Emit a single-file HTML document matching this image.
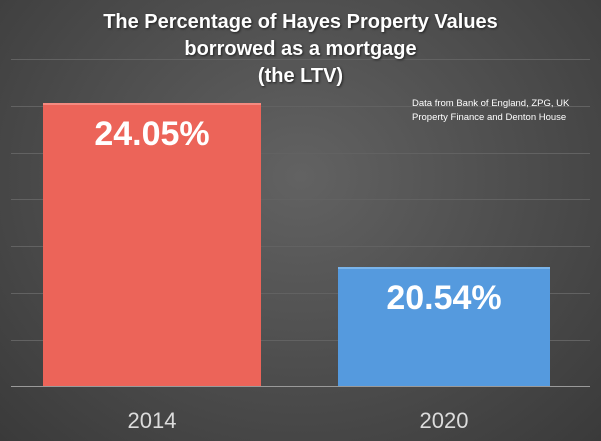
<!DOCTYPE html>
<html><head><style>
body{margin:0;width:601px;height:441px;overflow:hidden;font-family:"Liberation Sans",sans-serif;}
#c{position:relative;width:601px;height:441px;background:radial-gradient(ellipse at 50% 40%,#626262 0%,#505050 45%,#3a3a3a 100%);}
.g{position:absolute;left:11px;width:579px;height:1px;background:#626262;}
.t{position:absolute;left:0;width:601px;text-align:center;color:#fff;font-weight:bold;font-size:20px;text-shadow:1px 1px 2px #222;}
.bar{position:absolute;}
.v{position:absolute;width:100%;text-align:center;color:#fff;font-weight:bold;font-size:34px;}
.x{position:absolute;color:#dcdcdc;font-size:22px;top:408px;width:218px;text-align:center;}
</style></head><body><div id="c">
<div class="g" style="top:59px"></div>
<div class="g" style="top:106px"></div>
<div class="g" style="top:153px"></div>
<div class="g" style="top:199px"></div>
<div class="g" style="top:246px"></div>
<div class="g" style="top:293px"></div>
<div class="g" style="top:340px"></div>
<div class="t" style="top:11px">The Percentage of Hayes Property Values</div>
<div class="t" style="top:38px">borrowed as a mortgage</div>
<div class="t" style="top:65px">(the LTV)</div>
<div style="position:absolute;left:412px;top:97px;color:#fff;font-size:9.5px;line-height:14px;">Data from Bank of England, ZPG, UK<br>Property Finance and Denton House</div>
<div class="bar" style="left:43px;top:103px;width:218px;height:283px;background:#ec6459;box-shadow:inset 0 2px 0 #f58a80;"><div class="v" style="top:12px">24.05%</div></div>
<div class="bar" style="left:338px;top:267px;width:212px;height:119px;background:#559ade;box-shadow:inset 0 2px 0 #7ab4ea;"><div class="v" style="top:12px">20.54%</div></div>
<div class="g" style="top:386px;background:#9a9a9a;height:1px"></div>
<div class="x" style="left:43px">2014</div>
<div class="x" style="left:335px">2020</div>
</div></body></html>
